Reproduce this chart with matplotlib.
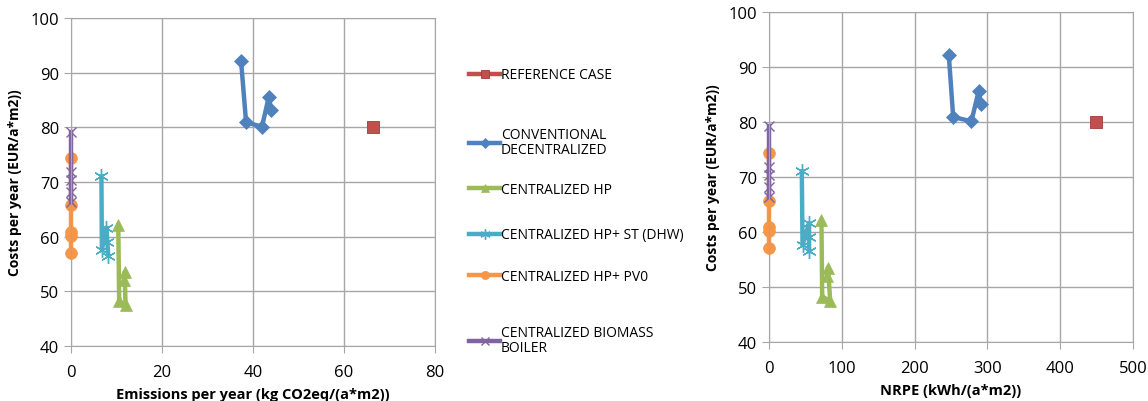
import matplotlib.pyplot as plt

plt.rcParams['font.family'] = ['Open Sans', 'DejaVu Sans']

# series names and colours (Excel-like palette)
names = ['REFERENCE CASE', 'CONVENTIONAL\nDECENTRALIZED', 'CENTRALIZED HP',
         'CENTRALIZED HP+ ST (DHW)', 'CENTRALIZED HP+ PV0', 'CENTRALIZED BIOMASS\nBOILER']
colors = ['#C0504D', '#4F81BD', '#9BBB59', '#4BACC6', '#F79646', '#8064A2']

# costs per year (EUR/(a*m2)) - shared by both charts
cost_ref = [80.0]
cost_conv = [92.1, 80.9, 80.1, 85.6, 83.2]
cost_hp = [62.1, 48.2, 47.5, 53.5, 52.0]
cost_st = [71.0, 57.6, 61.6, 59.0, 56.5]
cost_pv = [74.3, 65.7, 60.8, 60.1, 57.0]
cost_bio = [79.2, 71.8, 70.3, 68.2, 66.3]

# emissions per year (kg CO2eq/(a*m2))
em_ref = [66.5]
em_conv = [37.4, 38.5, 42.0, 43.5, 44.0]
em_hp = [10.4, 10.6, 12.0, 11.8, 11.7]
em_st = [6.7, 6.8, 7.8, 8.0, 8.2]
em_pv = [0.0, 0.0, 0.0, 0.0, 0.0]
em_bio = [0.0, 0.0, 0.0, 0.0, 0.0]

# NRPE (kWh/(a*m2))
pe_ref = [449]
pe_conv = [247, 253, 278, 288, 291]
pe_hp = [72, 73, 84, 81, 80]
pe_st = [45, 46, 55, 55, 55]
pe_pv = [0, 0, 0, 0, 0]
pe_bio = [0, 0, 0, 0, 0]

styles = [
    dict(marker='s', ms=8, mec='#A33B38', mew=0.6),
    dict(marker='D', ms=7, mec='#4F81BD', mew=0.5),
    dict(marker='^', ms=9, mec='#9BBB59', mew=0.5),
    dict(marker=(6, 2, 0), ms=10.5, mew=1.0),
    dict(marker='o', ms=8.5, mec='#F79646', mew=0.5),
    dict(marker='x', ms=7.5, mew=1.0),
]

costs = [cost_ref, cost_conv, cost_hp, cost_st, cost_pv, cost_bio]
emis = [em_ref, em_conv, em_hp, em_st, em_pv, em_bio]
nrpe = [pe_ref, pe_conv, pe_hp, pe_st, pe_pv, pe_bio]

# vertical centre of each legend entry (figure fraction)
legend_y = [0.811, 0.644, 0.527, 0.413, 0.309, 0.152]


def style_axes(ax, xmax, xstep):
    ax.set_xlim(0, xmax)
    ax.set_ylim(40, 100)
    ax.set_xticks(range(0, xmax + 1, xstep))
    ax.set_yticks(range(40, 101, 10))
    ax.grid(True, color='#a6a6a6', lw=1.0)
    ax.set_axisbelow(True)
    for s in ax.spines.values():
        s.set_color('#a6a6a6')
    ax.tick_params(colors='#a6a6a6', labelcolor='black', labelsize=12, length=5)
    ax.tick_params(axis='x', pad=8)


fig = plt.figure(figsize=(11.48, 4.02), dpi=100)
ax1 = fig.add_axes([0.0618, 0.137, 0.317, 0.816])
ax2 = fig.add_axes([0.6699, 0.147, 0.317, 0.821])

handles = []
for i in range(6):
    h, = ax1.plot(emis[i], costs[i], color=colors[i], lw=3.2, mfc=colors[i], label=names[i],
                  clip_on=False, **styles[i])
    ax2.plot(nrpe[i], costs[i], color=colors[i], lw=3.2, mfc=colors[i], clip_on=False, **styles[i])
    handles.append(h)

style_axes(ax1, 80, 20)
style_axes(ax2, 500, 100)

ax1.set_xlabel('Emissions per year (kg CO2eq/(a*m2))', fontsize=10.5, fontweight='bold', labelpad=5)
ax1.set_ylabel('Costs per year (EUR/a*m2))', fontsize=10, fontweight='bold', labelpad=6)
ax2.set_xlabel('NRPE (kWh/(a*m2))', fontsize=10.5, fontweight='bold', labelpad=5)
ax2.set_ylabel('Costs per year (EUR/a*m2))', fontsize=10, fontweight='bold', labelpad=6)

# one small legend per entry so the spacing follows the original
for h, y in zip(handles, legend_y):
    leg = fig.legend(handles=[h], loc='center left', bbox_to_anchor=(0.398, y),
                     frameon=False, fontsize=10, handlelength=2.2,
                     handletextpad=0.05, markerscale=0.7)
    for t in leg.get_texts():
        t.set_linespacing(1.0)

fig.savefig('out.png', dpi=100)
